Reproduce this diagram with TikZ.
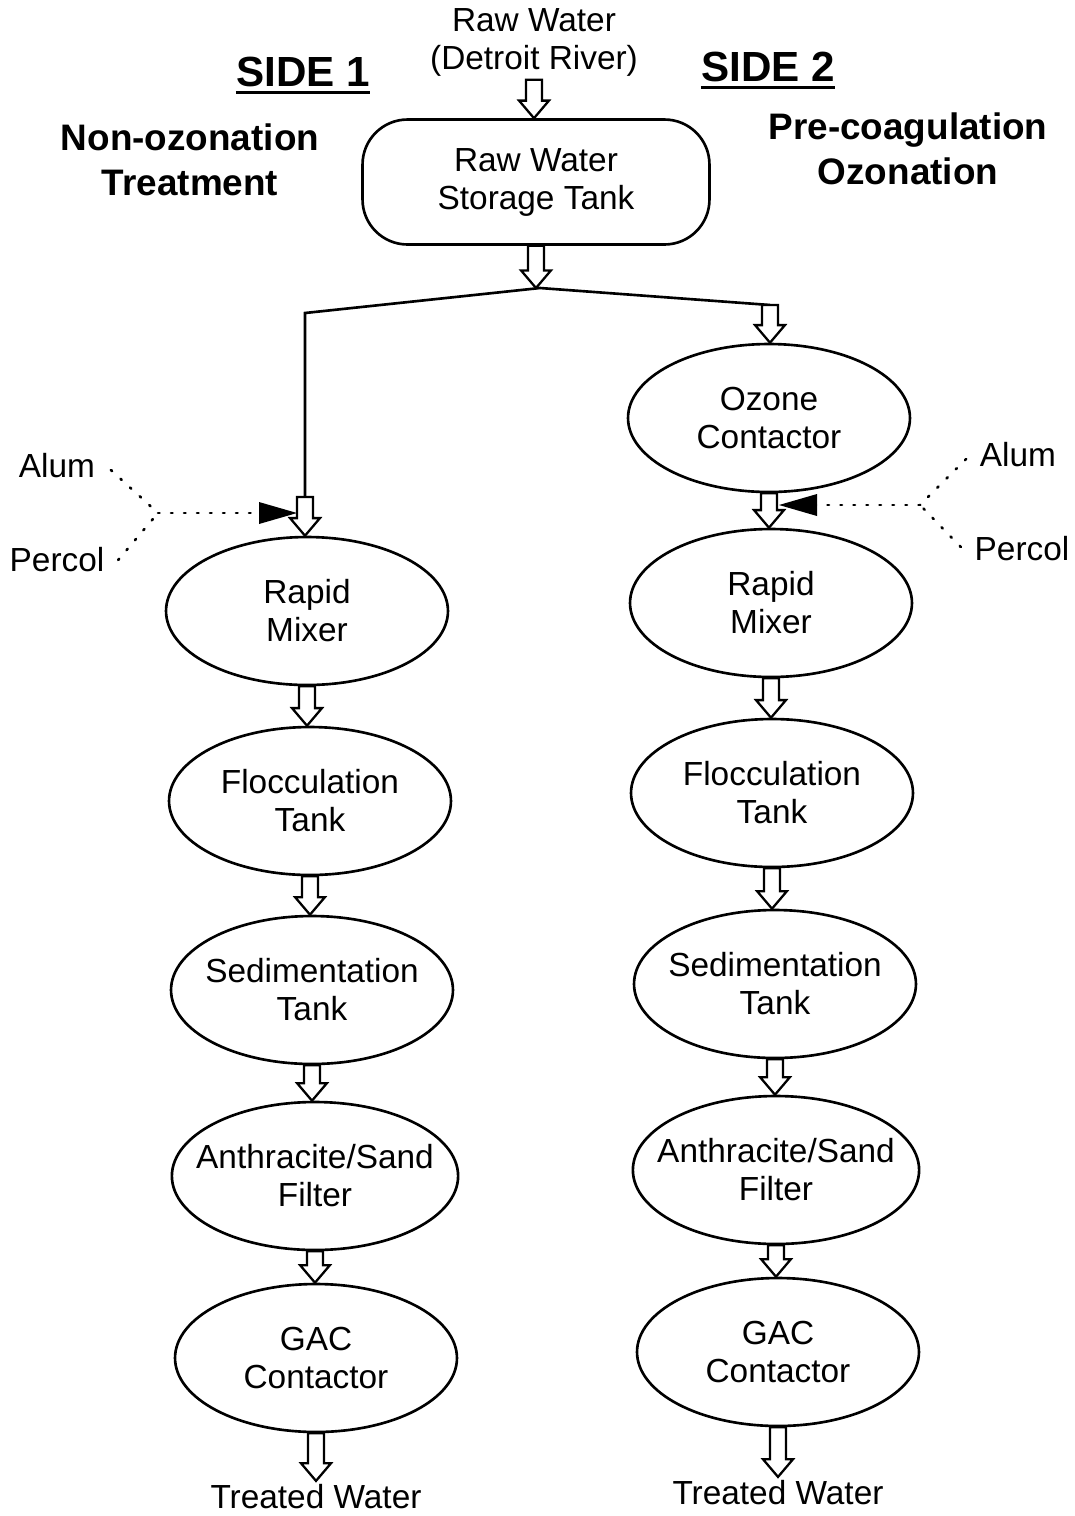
\documentclass[tikz,border=0pt]{standalone}
\usepackage{fontspec}
\setmainfont{Liberation Sans}
\usetikzlibrary{shapes.geometric,arrows.meta,calc}

% hollow block arrow, vertical, from #1 down to #2
\newcommand{\flowarrow}[2]{%
  \draw[flow] let \p1=#1, \p2=#2 in
    (\x1-4.5pt,\y1) -- (\x1-4.5pt,\y2+10pt) -- (\x1-8.5pt,\y2+10pt) -- (\x1,\y2)
    -- (\x1+8.5pt,\y2+10pt) -- (\x1+4.5pt,\y2+10pt) -- (\x1+4.5pt,\y1) -- cycle;}

\tikzset{
  stage/.style={draw,line width=1.5pt,ellipse,minimum width=5.64cm,minimum height=2.96cm,
    inner xsep=-4pt,inner ysep=0pt,align=center,font=\fontsize{19}{21.6}\selectfont},
  wide/.style={inner xsep=-10pt},
  tank/.style={draw,line width=1.5pt,rectangle,rounded corners=0.9cm,minimum width=6.94cm,
    minimum height=2.5cm,align=center,font=\fontsize{19}{21.6}\selectfont},
  label/.style={align=center,inner sep=2pt,font=\fontsize{19}{21.6}\selectfont},
  title/.style={inner sep=0pt,font=\fontsize{24}{28}\selectfont\bfseries},
  subtitle/.style={align=center,inner sep=0pt,font=\fontsize{21}{25.6}\selectfont\bfseries},
  flow/.style={line width=1.3pt,fill=white,line join=miter},
  line/.style={line width=1.5pt},
  dots/.style={line width=1.5pt,dash pattern=on 0.9pt off 6.5pt,line cap=round},
}

\begin{document}
\begin{tikzpicture}[x=0.02cm,y=-0.02cm]
\useasboundingbox (0,0) rectangle (1075,1516);

% headings
\node[title] (s1) at (303,72) {SIDE 1};
\draw[line width=1.8pt] ([shift={(0,6)}]s1.base west) -- ([shift={(0,6)}]s1.base east);
\node[subtitle] (s1t) at (190,160) {Non-ozonation\\Treatment};
\node[title] (s2) at (768,67) {SIDE 2};
\draw[line width=1.8pt] ([shift={(0,6)}]s2.base west) -- ([shift={(0,6)}]s2.base east);
\node[subtitle] (s2t) at (908,149) {Pre-coagulation\\Ozonation};

% source and storage
\node[label] (src) at (534,42) {Raw Water\\(Detroit River)};
\node[tank] (tank) at (536,182) {Raw Water\\Storage Tank};
\coordinate (split) at (540,288);
\coordinate (lbend) at (305,313);
\coordinate (lin) at (305,497);
\coordinate (rin) at (770,305);

% side 1
\node[stage] (rm1) at (307,611) {Rapid\\Mixer};
\node[stage] (fl1) at (310,801) {Flocculation\\Tank};
\node[stage] (sd1) at (312,990) {Sedimentation\\Tank};
\node[stage,wide] (af1) at (315,1176) {Anthracite/Sand\\Filter};
\node[stage] (gac1) at (316,1358) {GAC\\Contactor};
\node[label] (out1) at (316,1497) {Treated Water};

% side 2
\node[stage] (oz) at (769,418) {Ozone\\Contactor};
\node[stage] (rm2) at (771,603) {Rapid\\Mixer};
\node[stage] (fl2) at (772,793) {Flocculation\\Tank};
\node[stage] (sd2) at (775,984) {Sedimentation\\Tank};
\node[stage,wide] (af2) at (776,1170) {Anthracite/Sand\\Filter};
\node[stage] (gac2) at (778,1352) {GAC\\Contactor};
\node[label] (out2) at (778,1493) {Treated Water};

% flow
\flowarrow{(src.south)}{(tank.north)}
\flowarrow{(tank.south)}{(split)}
\draw[line] (split) -- (lbend) -- (lin);
\draw[line] (split) -- (rin);
\flowarrow{(lin)}{(rm1.north)}
\flowarrow{(rin)}{(oz.north)}
\foreach \a/\b in {rm1/fl1,fl1/sd1,sd1/af1,af1/gac1,gac1/out1,
                   oz/rm2,rm2/fl2,fl2/sd2,sd2/af2,af2/gac2,gac2/out2}
  {\flowarrow{(\a.south)}{(\b.north)}}

% chemical feed
\node[label] (alum1) at (57,466) {Alum};
\node[label] (perc1) at (57,560) {Percol};
\coordinate (j1) at (158,513);
\coordinate (t1) at (297,513);
\draw[dots] (alum1.east) ++(12,4) -- (j1);
\draw[dots] (perc1.east) ++(10,0) -- (j1);
\draw[dots] (j1) -- (t1);
\fill ([shift={(-38,-11)}]t1) -- (t1) -- ([shift={(-38,11)}]t1) -- cycle;

\node[label] (alum2) at (1018,455) {Alum};
\node[label] (perc2) at (1022,549) {Percol};
\coordinate (j2) at (920,505);
\coordinate (t2) at (779,505);
\draw[dots] (alum2.west) ++(-10,4) -- (j2);
\draw[dots] (perc2.west) ++(-10,-2) -- (j2);
\draw[dots] (j2) -- (t2);
\fill ([shift={(38,-11)}]t2) -- (t2) -- ([shift={(38,11)}]t2) -- cycle;
\end{tikzpicture}
\end{document}
